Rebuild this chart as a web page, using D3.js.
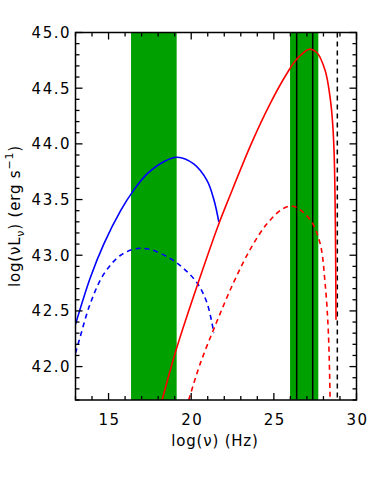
<!DOCTYPE html>
<html><head><meta charset="utf-8">
<script src="https://cdn.jsdelivr.net/npm/d3@7"></script>
<style>body{margin:0;background:#fff}svg{display:block}text{font-family:"DejaVu Sans",sans-serif;fill:#000}</style>
</head><body>
<script>
// ---- data ----
const xDomain = [13, 30];
const yDomain = [41.7, 45.0];
const xMajorTicks = [15, 20, 25, 30];
const yMajorTicks = [42.0, 42.5, 43.0, 43.5, 44.0, 44.5, 45.0];

const bands = [[16.36, 19.12], [25.98, 27.69]];
const solidLines = [26.38, 27.35];
const dashedLines = [28.84];

const blueSolidX = [13, 13.9, 14.71, 15.73, 16.5, 17.33, 18.34, 19.15, 20.15, 20.96, 21.37, 21.67];
const blueSolidY = [42.38, 42.8, 43.1, 43.4, 43.58, 43.73, 43.84, 43.88, 43.82, 43.67, 43.50, 43.30];

const blueDashX = [13, 13.27, 13.88, 14.71, 15.73, 16.74, 17.55, 18.74, 19.55, 20.36, 20.96, 21.37];
const blueDashY = [42.12, 42.26, 42.56, 42.83, 43.0, 43.06, 43.05, 42.97, 42.88, 42.75, 42.57, 42.30];

const redSolidX = [18.24, 19.15, 20.53, 21.64, 22.25, 23.69, 24.77, 25.78, 26.38, 27.15, 27.6, 28.1, 28.4, 28.55, 28.65, 28.72, 28.76];
const redSolidY = [41.7, 42.18, 42.8, 43.27, 43.5, 44.02, 44.36, 44.63, 44.76, 44.85, 44.82, 44.66, 44.42, 44.2, 43.9, 43.3, 42.42];

const redDashX = [19.85, 20.53, 21.54, 22.55, 23.56, 24.57, 25.57, 26.18, 27.19, 27.79, 28.1, 28.3, 28.4];
const redDashY = [41.7, 42.02, 42.4, 42.75, 43.05, 43.28, 43.42, 43.44, 43.32, 43.11, 42.75, 42.3, 41.73];

// ---- layout ----
const W = 381, H = 499;
const L = 75.5, R = 356.5, T = 32.5, B = 400;
const svg = d3.select("body").append("svg").attr("width", W).attr("height", H);
const x = d3.scaleLinear().domain(xDomain).range([L, R]);
const y = d3.scaleLinear().domain(yDomain).range([B, T]);

svg.append("defs").append("clipPath").attr("id", "clip")
  .append("rect").attr("x", L).attr("y", T).attr("width", R - L).attr("height", B - T);
const plot = svg.append("g").attr("clip-path", "url(#clip)");

const green = "#00a000";
plot.selectAll("rect.band").data(bands).join("rect")
  .attr("x", d => x(d[0])).attr("width", d => x(d[1]) - x(d[0]))
  .attr("y", T).attr("height", B - T).attr("fill", green);

plot.selectAll("line.vs").data(solidLines).join("line")
  .attr("x1", d => x(d)).attr("x2", d => x(d)).attr("y1", T).attr("y2", B)
  .attr("stroke", "#000").attr("stroke-width", 1.5);
plot.selectAll("line.vd").data(dashedLines).join("line")
  .attr("x1", d => x(d)).attr("x2", d => x(d)).attr("y1", T).attr("y2", B)
  .attr("stroke", "#000").attr("stroke-width", 1.5).attr("stroke-dasharray", "5,4");

const line = d3.line().x(d => x(d[0])).y(d => y(d[1])).curve(d3.curveCatmullRom.alpha(0.5));
const zip = (a, b) => a.map((v, i) => [v, b[i]]);
const curves = [
  {d: zip(blueSolidX, blueSolidY), c: "#0000ff", dash: null},
  {d: zip(blueDashX, blueDashY), c: "#0000ff", dash: "5,4"},
  {d: zip(redSolidX, redSolidY), c: "#ff0000", dash: null},
  {d: zip(redDashX, redDashY), c: "#ff0000", dash: "5,4"}
];
curves.forEach(k => {
  plot.append("path").attr("d", line(k.d)).attr("fill", "none")
    .attr("stroke", k.c).attr("stroke-width", 1.6)
    .attr("stroke-dasharray", k.dash);
});

// ---- axes ----
const ax = svg.append("g");
ax.append("rect").attr("x", L).attr("y", T).attr("width", R - L).attr("height", B - T)
  .attr("fill", "none").attr("stroke", "#000").attr("stroke-width", 1.5);

const xMinor = d3.range(xDomain[0], xDomain[1] + 0.001, 1);
const yMinor = d3.range(41.7, 45.0001, 0.1);
const isMajX = v => Math.abs(v % 5) < 1e-6;
const isMajY = v => Math.round(v * 10) % 5 === 0;

xMinor.forEach(v => {
  const len = isMajX(v) ? 7 : 4;
  ax.append("line").attr("x1", x(v)).attr("x2", x(v)).attr("y1", B).attr("y2", B - len).attr("stroke", "#000").attr("stroke-width", 1.3);
  ax.append("line").attr("x1", x(v)).attr("x2", x(v)).attr("y1", T).attr("y2", T + len).attr("stroke", "#000").attr("stroke-width", 1.3);
});
yMinor.forEach(v => {
  const len = isMajY(v) ? 7 : 4;
  ax.append("line").attr("y1", y(v)).attr("y2", y(v)).attr("x1", L).attr("x2", L + len).attr("stroke", "#000").attr("stroke-width", 1.3);
  ax.append("line").attr("y1", y(v)).attr("y2", y(v)).attr("x1", R).attr("x2", R - len).attr("stroke", "#000").attr("stroke-width", 1.3);
});

ax.selectAll("text.xt").data(xMajorTicks).join("text")
  .attr("x", d => x(d) + 1).attr("y", 425).attr("text-anchor", "middle")
  .attr("font-size", 15).attr("letter-spacing", 1.5).text(d => d);
ax.selectAll("text.yt").data(yMajorTicks).join("text")
  .attr("x", 71).attr("y", d => y(d) + 5.5).attr("text-anchor", "end")
  .attr("font-size", 15).attr("letter-spacing", 1.5).text(d => d.toFixed(1));

// x label
svg.append("text").attr("x", 215).attr("y", 446).attr("text-anchor", "middle")
  .attr("font-size", 15).attr("letter-spacing", 0.8).text("log(ν)  (Hz)");

// y label
const yl = svg.append("text").attr("transform", "translate(20,216) rotate(-90)")
  .attr("text-anchor", "middle").attr("font-size", 15).attr("letter-spacing", 0.8);
yl.append("tspan").text("log(νL");
yl.append("tspan").attr("font-size", 11).attr("dy", 4).text("ν");
yl.append("tspan").attr("dy", -4).text(")  (erg s");
yl.append("tspan").attr("font-size", 11).attr("dy", -7).text("−1");
yl.append("tspan").attr("dy", 7).text(")");
</script>
</body></html>
